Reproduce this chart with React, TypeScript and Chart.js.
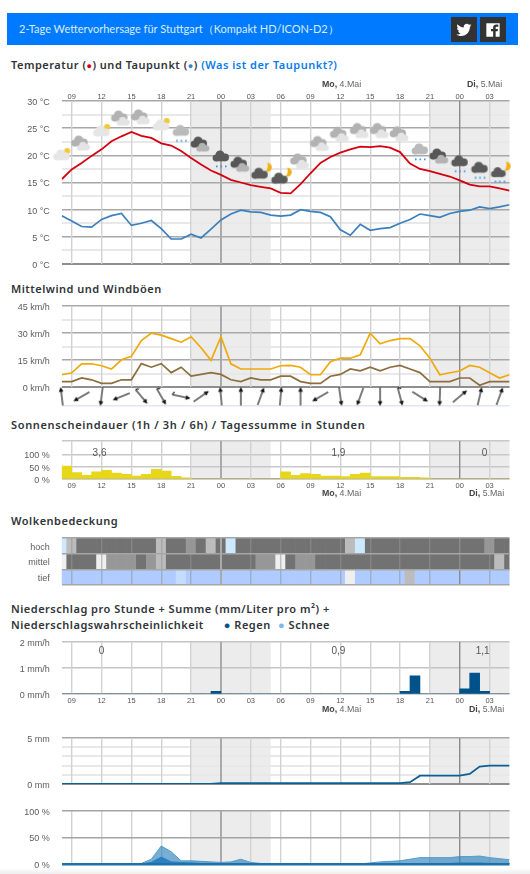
import React, { useEffect, useRef } from "react";
import { Chart, registerables } from "chart.js";

Chart.register(...registerables);

const temperature = [15.6,17.4,18.6,19.9,21.1,22.6,23.5,24.3,23.6,23.2,22.2,21.8,20.8,19.5,18.3,17.2,16.4,15.5,15.0,14.5,14.2,13.9,13.1,13.0,14.7,16.7,18.6,19.7,20.5,21.1,21.6,21.5,21.7,21.4,20.6,18.5,17.5,17.1,16.6,16.1,15.4,14.6,14.3,14.3,13.9,13.5];
const dewPoint = [8.9,7.9,6.9,6.8,8.2,8.9,9.3,7.1,7.5,8.0,6.5,4.6,4.6,5.5,4.8,6.4,8.1,9.2,9.9,9.6,9.5,9.0,8.8,9.0,10.0,9.7,9.5,8.7,6.3,5.3,7.3,6.2,6.5,6.7,7.5,8.2,9.2,8.9,8.6,9.3,9.7,9.9,10.5,10.2,10.5,10.9];
const windGust = [6.8,7.9,12.9,12.9,11.8,10,15.1,17,25.8,29.9,28.8,26.9,24.9,27.9,21.8,14.8,27.9,12.9,10,10,10,10,11.8,12,11,6.8,6.8,14,16,16,17.9,29.9,24,25.8,26.9,26.9,22.9,16,6.8,7.9,8.9,12,11,7.9,5,6.8];
const windMean = [3,3,5,4,2,2,4,4,13,11,13,8,11,6,7,8,7,4,3,5,4,4,6,6,3,2,2,6,7,10,9,11,9,11,12,10,8,3,3,3,5,5,1,3,3,3];
const windDirections = [353,240,187,248,140,150,102,55,355,0,20,5,0,240,172,200,180,165,122,182,50,13,20];
const windHooked = [0,0,0,0,1,1,1,0,0,0,0,0,0,0,0,0,0,1,0,0,0,0,0];
const twoHourly = [8,10,12,14,16,18,20,22,24,26,28,30,32,34,36,38,40,42,44,46,48,50,52];
const gridHours = [9,12,15,18,21,24,27,30,33,36,39,42,45,48,51];
const iconKinds = ["A","B","A","B","B","A","C","D","E","D","F","F","B","B","B","B","B","B","C","D","E","E","G"];
const iconHeights = [19.9,21.9,24.3,26.5,26.7,25.4,24.4,21.7,19.7,18.0,16.7,15.8,18.6,21.8,23.5,24.2,24.2,23.6,21.0,19.5,18.8,17.6,16.9];
const sunshine = [53,26,15,29,35,24,19,12,19,39,32,11,5,0,0,0,0,0,0,0,0,0,29,15,22,19,12,12,10,19,24,10,10,10,7,7,5,0,0,0,0,0,0,0,0];
const sunTotals = ["3,6","1,9","0"];
const sunTotalHours = [11.8,35.8,50.5];
const cloudHigh = [0,2,4,4,4,4,4,4,4,4,2,4,4,3,4,2,4,0,4,4,4,4,4,4,4,4,4,4,4,2,0,4,4,4,4,4,4,4,4,4,4,4,4,3,4,4];
const cloudMid = [1,4,4,4,1,3,3,3,4,3,2,4,4,4,4,4,4,4,4,4,3,3,1,4,3,3,4,4,4,4,4,4,4,4,4,4,4,4,4,4,4,4,4,4,2,4];
const cloudLow = [5,5,5,5,5,5,5,5,5,5,5,5,6,5,5,5,5,5,5,5,5,5,5,5,5,5,5,5,5,1,5,5,5,5,5,2,5,5,5,5,5,5,5,5,5,5];
const cloudRows = ["tief","mittel","hoch"];
const rainPerHour = [0,0,0,0,0,0,0,0,0,0,0,0,0,0,0,0.1,0,0,0,0,0,0,0,0,0,0,0,0,0,0,0,0,0,0,0.1,0.7,0,0,0,0,0.2,0.8,0.1,0,0];
const rainTotals = ["0","0,9","1,1"];
const rainTotalHours = [12,35.8,50.3];
const rainSum = [0,0,0,0,0,0,0,0,0,0,0,0,0,0,0,0,0.1,0.1,0.1,0.1,0.1,0.1,0.1,0.1,0.1,0.1,0.1,0.1,0.1,0.1,0.1,0.1,0.1,0.1,0.1,0.2,0.9,0.9,0.9,0.9,0.9,1.1,1.9,2,2,2];
const rainProbOuter = [0,0,0,0,0,0,0,0,1,9,34,23,6,6,5,4,3,4,9,3,1,1,0,0,0,0,0,0,0,0,0,2,4,5,6,9,12,12,12,12,14,14,15,12,10,8];
const rainProbInner = [0,0,0,0,0,0,0,0,0,3,13,4,3,2,1,1,1,1,1,0,0,0,0,0,0,0,0,0,0,0,0,0,0,0,1,1,1,1,1,1,2,2,2,1,1,1];
const nightBands = [[21,29],[45,53]];
const dayLabels = [["Mo,"," 4.Mai"],["Di,"," 5.Mai"]];

const PLOT_RIGHT_PAD = 530 - 509.5;
const PLOT_LEFT = 61.75;
const AXIS_PAD = 24;
const TICK_FONT = "'Liberation Sans', Arial, sans-serif";
const TITLE_FONT = "'Noto Sans', sans-serif";

const hoursFor = (values: number[], shift = 0) => values.map((y, i) => ({ x: 8 + i + shift, y }));
const tv = (ctx: any) => (ctx.tick ? ctx.tick.value : -1);

function makeImage(draw: (c: CanvasRenderingContext2D) => void, size = 28) {
  const cv = document.createElement("canvas");
  cv.width = size;
  cv.height = size;
  const c = cv.getContext("2d")!;
  draw(c);
  return cv;
}

function cloud(c: CanvasRenderingContext2D, cx: number, cy: number, s: number, color: string) {
  c.fillStyle = color;
  c.beginPath();
  c.arc(cx - 5 * s, cy + 1 * s, 3.4 * s, 0, 7);
  c.arc(cx - 1 * s, cy - 2 * s, 4.6 * s, 0, 7);
  c.arc(cx + 4.2 * s, cy + 0.4 * s, 3.8 * s, 0, 7);
  c.fill();
  c.fillRect(cx - 5 * s, cy, 9.5 * s, 4.3 * s);
}

function dots(c: CanvasRenderingContext2D) {
  c.fillStyle = "#3c94e8";
  [9, 13.5, 18].forEach((x) => c.fillRect(x, 22.5, 1.6, 1.8));
}

function sun(c: CanvasRenderingContext2D) {
  c.fillStyle = "#f2c83a";
  c.beginPath();
  c.arc(19.5, 9, 3.1, 0, 7);
  c.fill();
}

function moon(c: CanvasRenderingContext2D) {
  c.fillStyle = "#f0b010";
  c.beginPath();
  c.arc(20.5, 8, 4.6, -1.5, 1.9);
  c.quadraticCurveTo(22, 8, 20.5, 3.4);
  c.fill();
}

function weatherIcon(kind: string) {
  return makeImage((c) => {
    if (kind === "A") { sun(c); cloud(c, 14, 14, 1, "#e6e6e6"); }
    if (kind === "B") { cloud(c, 12, 11, 1, "#b2b2b2"); cloud(c, 16, 16, 0.8, "#e4e4e4"); }
    if (kind === "C") { cloud(c, 14, 14, 1, "#bababa"); dots(c); }
    if (kind === "D") { cloud(c, 12, 11, 1, "#565656"); cloud(c, 16, 16, 0.8, "#b4b4b4"); }
    if (kind === "E") { cloud(c, 14, 14, 1, "#5a5a5a"); dots(c); }
    if (kind === "F") { moon(c); cloud(c, 13, 15, 1, "#5a5a5a"); }
    if (kind === "G") { moon(c); cloud(c, 13, 15, 0.9, "#5a5a5a"); dots(c); }
  });
}

function windArrow(hooked: boolean) {
  return makeImage((c) => {
    c.strokeStyle = "#111";
    c.fillStyle = "#111";
    c.lineWidth = 1.1;
    c.beginPath();
    c.moveTo(14, 23);
    c.lineTo(14, 7);
    c.stroke();
    if (hooked) {
      c.beginPath();
      c.moveTo(14, 23);
      c.lineTo(10.8, 21.5);
      c.stroke();
    }
    c.beginPath();
    c.moveTo(14, 4.5);
    c.lineTo(16.4, 9.2);
    c.lineTo(11.6, 9.2);
    c.closePath();
    c.fill();
  });
}

const nightPlugin = {
  id: "nightShade",
  beforeDraw(chart: any) {
    const { ctx, chartArea, scales } = chart;
    ctx.save();
    ctx.fillStyle = "#ececec";
    nightBands.forEach(([a, b]) => {
      const x0 = scales.x.getPixelForValue(a);
      const x1 = scales.x.getPixelForValue(b);
      ctx.fillRect(x0, chartArea.top, x1 - x0, chartArea.bottom - chartArea.top);
    });
    ctx.restore();
  },
};

function totalsPlugin(texts: string[], hours: number[], level: number) {
  return {
    id: "totals",
    afterDatasetsDraw(chart: any) {
      const { ctx, scales } = chart;
      ctx.save();
      ctx.font = `10px ${TICK_FONT}`;
      ctx.fillStyle = "#555";
      ctx.textAlign = "center";
      ctx.textBaseline = "middle";
      texts.forEach((t, i) => ctx.fillText(t, scales.x.getPixelForValue(hours[i]), scales.y.getPixelForValue(level)));
      ctx.restore();
    },
  };
}

function xAxis(position: string, showTicks: boolean, z = 0, color?: string): any {
  return {
    type: "linear",
    min: 8,
    max: 53,
    offset: false,
    position,
    afterBuildTicks: (s: any) => { s.ticks = gridHours.map((value) => ({ value })); },
    afterFit: (s: any) => { s.height = AXIS_PAD; },
    border: { display: false },
    grid: {
      z,
      offset: false,
      drawTicks: false,
      color: (ctx: any) => {
        const v = tv(ctx);
        if (v === 24) return "#aaaaaa";
        if (v === 48) return "#8c8c8c";
        return color || "#d2d2d2";
      },
      lineWidth: (ctx: any) => (tv(ctx) === 24 ? 2 : 1.4),
    },
    ticks: {
      display: showTicks,
      autoSkip: false,
      maxRotation: 0,
      padding: position === "top" ? 0 : 2.5,
      color: "#555",
      font: { size: 7.5, family: TICK_FONT },
      callback: (v: number) => String(v % 24).padStart(2, "0"),
    },
  };
}

function yAxis(min: number, max: number, step: number, label: (v: number) => string, major: (v: number) => boolean, extra: any = {}): any {
  return {
    min,
    max,
    afterFit: (s: any) => { s.width = PLOT_LEFT; },
    border: { display: false },
    grid: {
      drawTicks: false,
      color: (ctx: any) => (tv(ctx) === 0 ? "#8e8e8e" : major(tv(ctx)) ? "#a8a8a8" : "#e8e8e8"),
      lineWidth: (ctx: any) => (tv(ctx) === 0 ? 2 : major(tv(ctx)) ? 1.5 : 2),
      ...(extra.grid || {}),
    },
    ticks: {
      stepSize: step,
      autoSkip: false,
      padding: 12,
      labelOffset: 1.5,
      color: "#5c5c5c",
      font: { size: 9, family: TICK_FONT },
      callback: label,
    },
  };
}

function lineSet(values: number[], color: string, width = 1.8, extra: any = {}) {
  return { type: "line", data: hoursFor(values), borderColor: color, borderWidth: width, pointRadius: 0, tension: 0, ...extra };
}

function barSet(values: number[], color: string) {
  return { type: "bar", data: hoursFor(values, 0.5), backgroundColor: color, borderWidth: 0, barPercentage: 1, categoryPercentage: 1 };
}

function cloudColor(level: number) {
  return ["#cde9ff", "#efefef", "#bcbcbc", "#979797", "#727272", "#b0cbff", "#c6dcff"][level];
}

function cloudSet(values: number[], row: number) {
  return {
    type: "bar",
    data: values.map((l, i) => ({ x: 8 + i, y: [row, row + 1] })),
    backgroundColor: values.map(cloudColor),
    borderWidth: 0,
    grouped: false,
    barPercentage: 1,
    categoryPercentage: 1,
  };
}

const base = (xPos: string, x: any, y: any) => ({
  animation: false,
  responsive: false,
  maintainAspectRatio: false,
  events: [],
  layout: {
    padding: {
      left: 0,
      right: PLOT_RIGHT_PAD,
      top: xPos === "top" ? 0 : AXIS_PAD,
      bottom: xPos === "top" ? AXIS_PAD : 0,
    },
  },
  plugins: { legend: { display: false }, tooltip: { enabled: false }, title: { display: false } },
  scales: { x, y },
});

const panels = [
  { key: "temp", top: 101, bottom: 264 },
  { key: "wind", top: 306, bottom: 387 },
  { key: "arrows", top: 387, bottom: 406 },
  { key: "sun", top: 441, bottom: 479 },
  { key: "cloud", top: 537.5, bottom: 585 },
  { key: "rain", top: 642, bottom: 694 },
  { key: "sum", top: 738, bottom: 784 },
  { key: "prob", top: 811, bottom: 864 },
];

function buildConfig(key: string): any {
  if (key === "temp") {
    return {
      type: "line",
      data: {
        datasets: [
          lineSet(temperature, "#d4000f", 1.8),
          lineSet(dewPoint, "#3b80bd", 1.7),
          {
            type: "line",
            data: twoHourly.map((x, i) => ({ x, y: iconHeights[i] })),
            showLine: false,
            clip: false,
            pointRadius: 10,
            pointStyle: iconKinds.map(weatherIcon),
          },
        ],
      },
      options: base("top", xAxis("top", true), yAxis(0, 30, 2.5, (v) => (v % 5 === 0 ? `${v} °C` : ""), (v) => v % 5 === 0)),
      plugins: [nightPlugin],
    };
  }
  if (key === "wind") {
    return {
      type: "line",
      data: { datasets: [lineSet(windGust, "#f0a90a", 1.7), lineSet(windMean, "#8d6e3e", 1.7)] },
      options: base("top", xAxis("top", false), yAxis(0, 45, 7.5, (v) => (v % 15 === 0 ? `${v} km/h` : ""), (v) => v % 15 === 0)),
      plugins: [nightPlugin],
    };
  }
  if (key === "arrows") {
    const plain = windArrow(false);
    const hooked = windArrow(true);
    const x = xAxis("top", false);
    x.grid.color = () => "rgba(0,0,0,0)";
    const y = yAxis(0, 1, 1, () => "", () => false, {
      grid: { color: (c: any) => (tv(c) === 0 ? "#dfe6f4" : "rgba(0,0,0,0)"), lineWidth: 1.5 },
    });
    return {
      type: "line",
      data: {
        datasets: [{
          type: "line",
          data: twoHourly.map((h) => ({ x: h, y: 0.5 })),
          showLine: false,
          clip: false,
          pointRadius: 10,
          pointStyle: windHooked.map((h) => (h ? hooked : plain)),
          pointRotation: windDirections,
        }],
      },
      options: base("top", x, y),
    };
  }
  if (key === "sun") {
    return {
      type: "bar",
      data: { datasets: [barSet(sunshine, "#e8d718")] },
      options: base("bottom", xAxis("bottom", true), yAxis(0, 155, 50, (v) => (v % 50 === 0 ? `${v} %` : ""), () => true, {
        grid: { color: (c: any) => (tv(c) === 0 ? "#a0a0a0" : "#c8c8c8"), lineWidth: 1.4 },
      })),
      plugins: [nightPlugin, totalsPlugin(sunTotals, sunTotalHours, 107)],
    };
  }
  if (key === "cloud") {
    const y = yAxis(0, 3, 0.5, (v) => (v % 1 !== 0 ? cloudRows[Math.floor(v)] : ""), () => true, {
      grid: {
        z: 1,
        color: (c: any) => (tv(c) % 1 === 0 ? "#a6a6a6" : "rgba(0,0,0,0)"),
        lineWidth: 1.5,
      },
    });
    return {
      type: "bar",
      data: { datasets: [cloudSet(cloudHigh, 2), cloudSet(cloudMid, 1), cloudSet(cloudLow, 0)] },
      options: base("bottom", xAxis("bottom", false, 1, "rgba(150,150,150,0.55)"), y),
    };
  }
  if (key === "rain") {
    return {
      type: "bar",
      data: { datasets: [barSet(rainPerHour, "#00528a")] },
      options: base("bottom", xAxis("bottom", true), yAxis(0, 2, 1, (v) => `${v} mm/h`, () => true, {
        grid: { color: (c: any) => (tv(c) === 0 ? "#a8a8a8" : "#c4c4c4"), lineWidth: 1.4 },
      })),
      plugins: [nightPlugin, totalsPlugin(rainTotals, rainTotalHours, 1.65)],
    };
  }
  if (key === "sum") {
    return {
      type: "line",
      data: { datasets: [lineSet(rainSum, "#0a5f96", 1.8)] },
      options: base("top", xAxis("top", false), yAxis(0, 5, 1, (v) => (v % 5 === 0 ? `${v} mm` : ""), (v) => v % 5 === 0)),
      plugins: [nightPlugin],
    };
  }
  const probY = yAxis(0, 100, 50, (v) => `${v} %`, () => true, {
    grid: {
      z: 1,
      color: (c: any) => (tv(c) === 0 ? "#1f6fa8" : "#a4a4a4"),
      lineWidth: (c: any) => (tv(c) === 0 ? 2.5 : 1.4),
    },
  });
  return {
    type: "line",
    data: {
      datasets: [
        lineSet(rainProbOuter, "#4f9ccc", 1, { fill: "origin", backgroundColor: "rgba(35,125,185,0.62)" }),
        lineSet(rainProbInner, "#2a88cc", 1, { fill: "origin", backgroundColor: "rgba(20,115,195,0.85)" }),
      ],
    },
    options: base("top", xAxis("top", false), probY),
    plugins: [nightPlugin],
  };
}

function Panel({ panelKey, top, bottom }: { panelKey: string; top: number; bottom: number }) {
  const ref = useRef<HTMLCanvasElement>(null);
  useEffect(() => {
    const chart = new Chart(ref.current!, buildConfig(panelKey));
    return () => chart.destroy();
  }, [panelKey]);
  const h = bottom - top + AXIS_PAD * 2;
  return (
    <canvas
      ref={ref}
      width={530}
      height={h}
      style={{ position: "absolute", left: 0, top: top - AXIS_PAD, width: 530, height: h, display: "block" }}
    />
  );
}

const titleStyle: React.CSSProperties = {
  position: "absolute",
  left: 11,
  margin: 0,
  fontFamily: TITLE_FONT,
  fontWeight: 600,
  fontSize: 11,
  lineHeight: "16px",
  letterSpacing: "0.55px",
  color: "#2f3438",
  whiteSpace: "nowrap",
};

function Title({ top, spacing, children }: { top: number; spacing?: number; children: React.ReactNode }) {
  return <div style={{ ...titleStyle, top, letterSpacing: spacing ?? 0.5 }}>{children}</div>;
}

function DayLabels({ top }: { top: number }) {
  const lefts = [322, top > 200 ? 469 : 467];
  return (
    <>
      {dayLabels.map(([d, rest], i) => (
        <div key={d} style={{ position: "absolute", left: lefts[i], top, fontFamily: TICK_FONT, fontSize: 8.8, lineHeight: "10px", color: "#666", whiteSpace: "nowrap" }}>
          <b style={{ color: "#444" }}>{d}</b>{rest}
        </div>
      ))}
    </>
  );
}

const red = <span style={{ color: "#d4000f", fontSize: 9 }}>●</span>;
const blue = <span style={{ color: "#3b80bd", fontSize: 9 }}>●</span>;

export default function App() {
  return (
    <div style={{ position: "absolute", left: 0, top: 0, width: 530, height: 874, overflow: "hidden", background: "#fff" }}>
      <div style={{ position: "absolute", left: 7, top: 13, width: 511, height: 32, background: "#007bff" }} />
      <div style={{ position: "absolute", left: 19, top: 21, color: "#dcecff", fontFamily: "Lato, sans-serif", fontSize: 11, lineHeight: "16px", whiteSpace: "nowrap" }}>
        2-Tage Wettervorhersage für Stuttgart（Kompakt HD/ICON-D2）
      </div>
      <div style={{ position: "absolute", left: 451, top: 17, width: 26, height: 25, background: "#333" }}>
        <svg viewBox="0 0 24 24" width="16" height="16" style={{ position: "absolute", left: 5, top: 5 }}>
          <path fill="#fff" d="M23 4.9c-.8.4-1.7.6-2.6.7.9-.6 1.6-1.4 2-2.5-.9.5-1.8.9-2.9 1.1C18.7 3.3 17.5 2.7 16.2 2.7c-2.5 0-4.6 2-4.6 4.6 0 .4 0 .7.1 1C7.9 8.100 4.500 6.300 2.200 3.500c-.4.7-.6 1.500-.6 2.300 0 1.600.8 3 2 3.800-.8 0-1.500-.2-2.100-.6v.1c0 2.200 1.600 4.100 3.700 4.500-.4.1-.8.2-1.200.2-.3 0-.6 0-.9-.1.6 1.800 2.300 3.200 4.300 3.200-1.600 1.200-3.600 2-5.700 2-.4 0-.7 0-1.100-.1C2.700 20.300 5.100 21 7.700 21c8.500 0 13.100-7 13.100-13.100v-.6c.9-.6 1.700-1.400 2.200-2.400z" />
        </svg>
      </div>
      <div style={{ position: "absolute", left: 480, top: 17, width: 26, height: 25, background: "#333" }}>
        <svg viewBox="0 0 24 24" width="16" height="16" style={{ position: "absolute", left: 5, top: 5 }}>
          <path fill="#fff" d="M2 2h20v20h-6v-8h3l.5-3.500H16V8.500c0-1 .4-1.500 1.600-1.500H20V4c-.6-.1-1.700-.2-3-.2-3 0-4.800 1.700-4.800 4.400v2.300H9V14h3.200v8H2z" />
        </svg>
      </div>

      <Title top={57}>
        Temperatur ({red}) und Taupunkt ({blue}) <span style={{ color: "#0a7ce8" }}>(Was ist der Taupunkt?)</span>
      </Title>
      <Title top={281}>Mittelwind und Windböen</Title>
      <Title top={417} spacing={0.65}>Sonnenscheindauer (1h / 3h / 6h) / Tagessumme in Stunden</Title>
      <Title top={513}>Wolkenbedeckung</Title>
      <Title top={601}>Niederschlag pro Stunde + Summe (mm/Liter pro m²) +</Title>
      <Title top={617}>
        Niederschlagswahrscheinlichkeit
        <span style={{ marginLeft: 20, color: "#00528a" }}>●</span> Regen <span style={{ marginLeft: 4, color: "#79bbea" }}>●</span> Schnee
      </Title>

      {panels.map((p) => (
        <Panel key={p.key} panelKey={p.key} top={p.top} bottom={p.bottom} />
      ))}

      <DayLabels top={79} />
      <DayLabels top={488} />
      <DayLabels top={704} />

      <div style={{ position: "absolute", left: 0, top: 868, width: 530, height: 6, background: "linear-gradient(#ffffff,#ececec)" }} />
    </div>
  );
}
